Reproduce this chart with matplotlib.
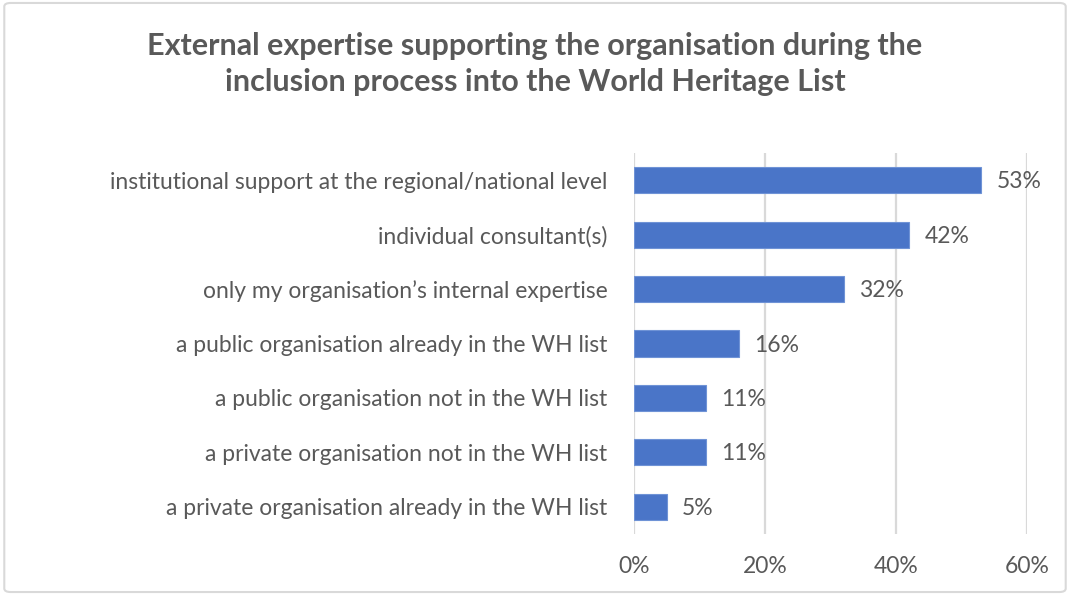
import matplotlib.pyplot as plt
from matplotlib.patches import FancyBboxPatch

categories = [
    "institutional support at the regional/national level",
    "individual consultant(s)",
    "only my organisation\u2019s internal expertise",
    "a public organisation already in the WH list",
    "a public organisation not in the WH list",
    "a private organisation not in the WH list",
    "a private organisation already in the WH list",
]
values = [53, 42, 32, 16, 11, 11, 5]
x_ticks = [0, 20, 40, 60]
title = "External expertise supporting the organisation during the\ninclusion process into the World Heritage List"

plt.rcParams['font.family'] = ['Lato', 'DejaVu Sans']
text_color = "#595959"
grid_color = "#d9d9d9"
bar_color = "#4a75c8"

fig = plt.figure(figsize=(10.7, 5.95), dpi=100)
ax = fig.add_axes([0.5925, 1 - 534 / 595, 0.96 - 0.5925, (534 - 153) / 595])

pos = list(range(len(categories)))
ax.barh(pos, values, height=0.48, color=bar_color, edgecolor="#6f93d6", linewidth=0.8, zorder=3)
for p, v in zip(pos, values):
    ax.text(v + 2.3, p + 0.03, f"{v}%", va="center", ha="left", fontsize=16.5, color=text_color)

ax.set_ylim(len(categories) - 0.5, -0.5)
ax.set_xlim(0, 60)
ax.set_yticks(pos)
ax.set_yticklabels(categories, fontsize=16.5, color=text_color)
ax.set_xticks(x_ticks)
ax.set_xticklabels([f"{t}%" for t in x_ticks], fontsize=16.5, color=text_color)
ax.tick_params(axis="y", length=0, pad=19)
ax.tick_params(axis="x", length=0, pad=16)
ax.grid(axis="x", color=grid_color, linewidth=1.6, zorder=0)
for s in ax.spines.values():
    s.set_visible(False)

fig.text(0.5, 1 - 64 / 595, title, ha="center", va="center", fontsize=22,
         fontweight="bold", color=text_color, linespacing=1.32)

border = FancyBboxPatch((0.004, 0.005), 0.992, 0.99, boxstyle="round,pad=0,rounding_size=0.006",
                        transform=fig.transFigure, fill=False, edgecolor=grid_color, linewidth=1.5)
fig.patches.append(border)

fig.savefig("out.png", dpi=100)
